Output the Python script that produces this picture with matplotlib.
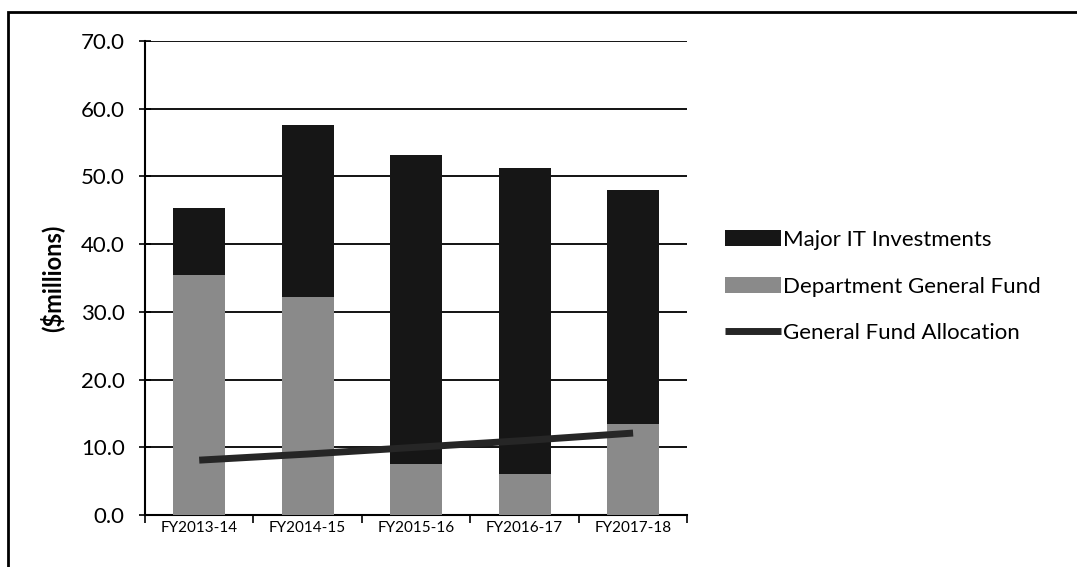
import numpy as np
import matplotlib
matplotlib.use('Agg')
import matplotlib.pyplot as plt
from matplotlib.patches import Rectangle

years = ['FY2013-14', 'FY2014-15', 'FY2015-16', 'FY2016-17', 'FY2017-18']
dept_general_fund = [35.4, 32.2, 7.5, 6.1, 13.4]
bar_totals = [45.3, 57.6, 53.2, 51.3, 48.0]
major_it = [t - d for t, d in zip(bar_totals, dept_general_fund)]
general_fund_alloc = [8.1, 9.0, 10.0, 11.0, 12.1]

plt.rcParams['font.family'] = ['Lato', 'DejaVu Sans']

fig = plt.figure(figsize=(10.77, 5.67), dpi=100)
ax = fig.add_axes([0.1346, 0.0917, 0.5036, 0.836])

x = np.arange(len(years))
width = 0.48
ax.bar(x, dept_general_fund, width, color='#8a8a8a', label='Department General Fund', zorder=3)
ax.bar(x, major_it, width, bottom=dept_general_fund, color='#161616',
       label='Major IT Investments', zorder=3)
ax.plot(x, general_fund_alloc, color='#262626', lw=5, solid_capstyle='butt',
        label='General Fund Allocation', zorder=4)

ax.set_xlim(-0.5, len(years) - 0.5)
ax.set_ylim(0, 70)
ax.set_yticks(np.arange(0, 71, 10))
ax.set_yticklabels(['%.1f' % v for v in np.arange(0, 71, 10)], fontsize=16)
ax.set_xticks(x)
ax.set_xticklabels(years, fontsize=11)
ax.set_xticks(np.arange(-0.5, len(years)), minor=True)
ax.tick_params(axis='x', which='major', length=0, pad=4)
ax.tick_params(axis='x', which='minor', length=6, width=1.2, direction='out')
ax.tick_params(axis='y', length=9, width=1.2, direction='inout', pad=10)
ax.yaxis.grid(True, color='black', lw=1.3, zorder=0)
for s in ['top', 'right']:
    ax.spines[s].set_visible(False)
for s in ['left', 'bottom']:
    ax.spines[s].set_linewidth(1.5)
ax.set_ylabel('($millions)', fontsize=17, fontweight='bold', labelpad=12)

handles, labels = ax.get_legend_handles_labels()
order = [2, 1, 0]
ax.legend([handles[i] for i in order], [labels[i] for i in order],
          loc='center left', bbox_to_anchor=(1.07, 0.482), frameon=False,
          borderaxespad=0, borderpad=0,
          fontsize=16, handlelength=2.5, handletextpad=0.1, labelspacing=1.2)

# chart frame
fig.patches.append(Rectangle((0.007, -0.02), 1.1, 0.998, transform=fig.transFigure,
                             fill=False, ec='black', lw=2))

fig.savefig('out.png', dpi=100)
